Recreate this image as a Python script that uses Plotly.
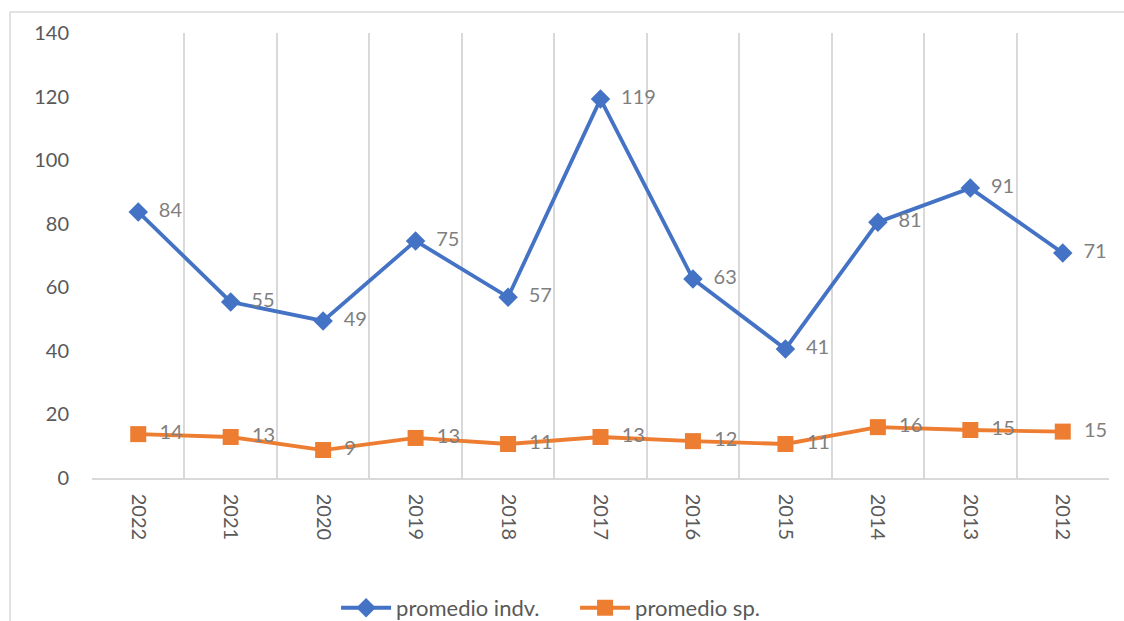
import plotly.graph_objects as go

years = ["2022", "2021", "2020", "2019", "2018", "2017", "2016", "2015", "2014", "2013", "2012"]
promedio_indv = [83.7, 55.4, 49.4, 74.6, 56.9, 119.2, 62.6, 40.6, 80.5, 91.2, 70.8]
promedio_sp = [13.8, 12.9, 8.8, 12.6, 10.7, 12.9, 11.6, 10.7, 16.0, 15.1, 14.6]
y_ticks = [0, 20, 40, 60, 80, 100, 120, 140]

FONT = "Lato, Calibri, 'Liberation Sans', sans-serif"
BLUE = "#4472c4"
ORANGE = "#ed7d31"
LABEL = "#7f7f7f"
AXIS_TXT = "#595959"
GRID = "#d9d9d9"

NB = "\u00a0\u00a0"

fig = go.Figure()
fig.add_trace(go.Scatter(
    x=years, y=promedio_indv, name="promedio indv.",
    mode="lines+markers+text",
    line=dict(color=BLUE, width=3.8),
    marker=dict(symbol="diamond", size=15, color=BLUE),
    texttemplate=NB + "%{y:.0f}", textposition="middle right",
    textfont=dict(family=FONT, size=20, color=LABEL),
    cliponaxis=False,
))
fig.add_trace(go.Scatter(
    x=years, y=promedio_sp, name="promedio sp.",
    mode="lines+markers+text",
    line=dict(color=ORANGE, width=3.8),
    marker=dict(symbol="square", size=16, color=ORANGE),
    texttemplate=NB + "%{y:.0f}", textposition="middle right",
    textfont=dict(family=FONT, size=20, color=LABEL),
    cliponaxis=False,
))

fig.update_layout(
    width=1124, height=621,
    margin=dict(l=92, r=15, t=33, b=143, autoexpand=False),
    paper_bgcolor="white", plot_bgcolor="white",
    font=dict(family=FONT, size=20, color=AXIS_TXT),
    showlegend=True,
    legend=dict(orientation="h", x=0.475, xanchor="center", y=-0.292, yanchor="middle",
                font=dict(family=FONT, size=22, color=AXIS_TXT), itemwidth=50,
                entrywidth=174, entrywidthmode="pixels",
                traceorder="normal"),
    xaxis=dict(type="category", tickson="boundaries", showgrid=True, gridcolor=GRID, gridwidth=1.5,
               tickangle=90, ticks="", showline=True, linecolor=GRID, linewidth=1.5,
               tickfont=dict(family=FONT, size=20, color=AXIS_TXT), range=[-0.5, 10.5],
               automargin=False, ticklabelstandoff=10, fixedrange=True),
    yaxis=dict(range=[0, 140], tickvals=y_ticks, showgrid=False, zeroline=False, showline=False,
               ticks="", tickfont=dict(family=FONT, size=20, color=AXIS_TXT), ticklabelstandoff=22,
               automargin=False, fixedrange=True),
    shapes=[
        dict(type="line", xref="paper", yref="paper", x0=-0.0806, x1=1.05, y0=1.047, y1=1.047,
             line=dict(color=GRID, width=1.5)),
        dict(type="line", xref="paper", yref="paper", x0=-0.0806, x1=-0.0806, y0=1.047, y1=-0.4,
             line=dict(color=GRID, width=1.5)),
    ],
)

fig.write_html("out.html", config={"displayModeBar": False},
               post_script="document.body.style.margin='0';document.body.style.overflow='hidden';")
